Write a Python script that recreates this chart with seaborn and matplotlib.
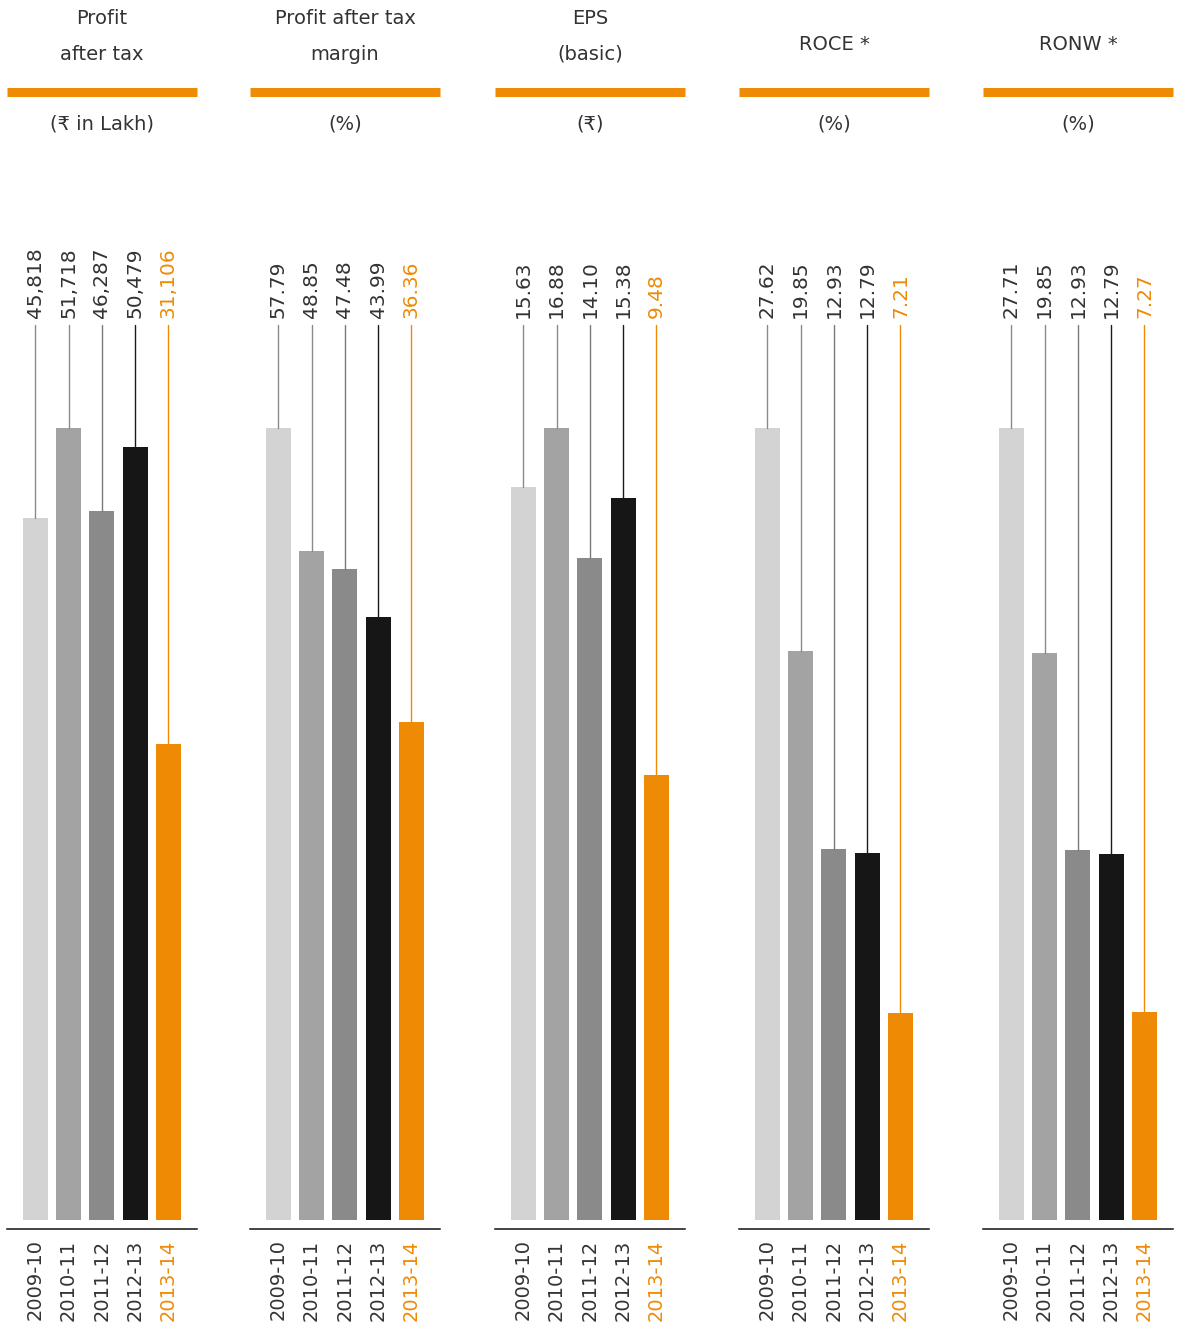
import seaborn as sns
import matplotlib.pyplot as plt
from matplotlib.lines import Line2D

sns.set_theme(style="white")
plt.rcParams['font.family'] = ['DejaVu Sans', 'Noto Sans']

# data
years = ['2009-10', '2010-11', '2011-12', '2012-13', '2013-14']
pat = [45818, 51718, 46287, 50479, 31106]
pat_margin = [57.79, 48.85, 47.48, 43.99, 36.36]
eps = [15.63, 16.88, 14.10, 15.38, 9.48]
roce = [27.62, 19.85, 12.93, 12.79, 7.21]
ronw = [27.71, 19.85, 12.93, 12.79, 7.27]

titles = [('Profit', 'after tax'), ('Profit after tax', 'margin'), ('EPS', '(basic)'),
          ('ROCE *',), ('RONW *',)]
units = ['(₹ in Lakh)', '(%)', '(₹)', '(%)', '(%)']
series = [pat, pat_margin, eps, roce, ronw]
fmts = ['{:,.0f}', '{:.2f}', '{:.2f}', '{:.2f}', '{:.2f}']

orange = '#ef8a05'
bar_colors = ['#d3d3d3', '#a3a3a3', '#8a8a8a', '#161616', orange]
line_colors = ['#8a8a8a', '#8a8a8a', '#7a7a7a', '#1a1a1a', orange]
txt = '#333333'

W, H = 1178, 1338
fig = plt.figure(figsize=(W / 100, H / 100), dpi=100)

lefts = [7, 250, 495, 739, 983]
pw = 190
bar_bottom, bar_top = 1220, 428

for k, (left, vals) in enumerate(zip(lefts, series)):
    ax = fig.add_axes([left / W, 1 - bar_bottom / H, pw / W, (bar_bottom - bar_top) / H])
    sns.barplot(x=years, y=vals, hue=years, palette=bar_colors, legend=False,
                width=0.75, saturation=1, linewidth=0, ax=ax)
    vmax = max(vals)
    ax.set_ylim(0, vmax)
    ax.set_xlim(-0.85, 4.86)
    scale = vmax / (bar_bottom - bar_top)
    y_line = vmax + (bar_top - 325) * scale
    y_lab = vmax + (bar_top - 318) * scale
    for i, v in enumerate(vals):
        ax.plot([i, i], [v, y_line], color=line_colors[i], lw=1, clip_on=False)
        ax.text(i, y_lab, fmts[k].format(v), rotation=90, ha='center', va='bottom',
                fontsize=14.5, color=orange if i == 4 else txt, clip_on=False)

    for s in ['top', 'left', 'right']:
        ax.spines[s].set_visible(False)
    ax.spines['bottom'].set_position(('outward', 6.5))
    ax.spines['bottom'].set_color('#111111')
    ax.spines['bottom'].set_linewidth(1.1)
    ax.set_yticks([])
    ax.set_xlabel('')
    ax.set_ylabel('')
    ax.tick_params(axis='x', length=0, pad=7.5, labelsize=14, labelcolor=txt)
    ax.set_xticks(range(len(years)))
    ax.set_xticklabels(years, rotation=90, va='top')
    ax.get_xticklabels()[-1].set_color(orange)

    # header: title, orange rule, unit
    cx = (left + pw / 2) / W
    t = titles[k]
    if len(t) == 2:
        fig.text(cx, 1 - 19 / H, t[0], ha='center', va='center', fontsize=14, color=txt)
        fig.text(cx, 1 - 54 / H, t[1], ha='center', va='center', fontsize=14, color=txt)
    else:
        fig.text(cx, 1 - 45 / H, t[0], ha='center', va='center', fontsize=14, color=txt)
    fig.add_artist(Line2D([left / W, (left + pw) / W], [1 - 91.5 / H] * 2,
                          color=orange, lw=6.5, solid_capstyle='butt'))
    fig.text(cx, 1 - 124 / H, units[k], ha='center', va='center', fontsize=14, color=txt)

fig.savefig('out.png', dpi=100)
